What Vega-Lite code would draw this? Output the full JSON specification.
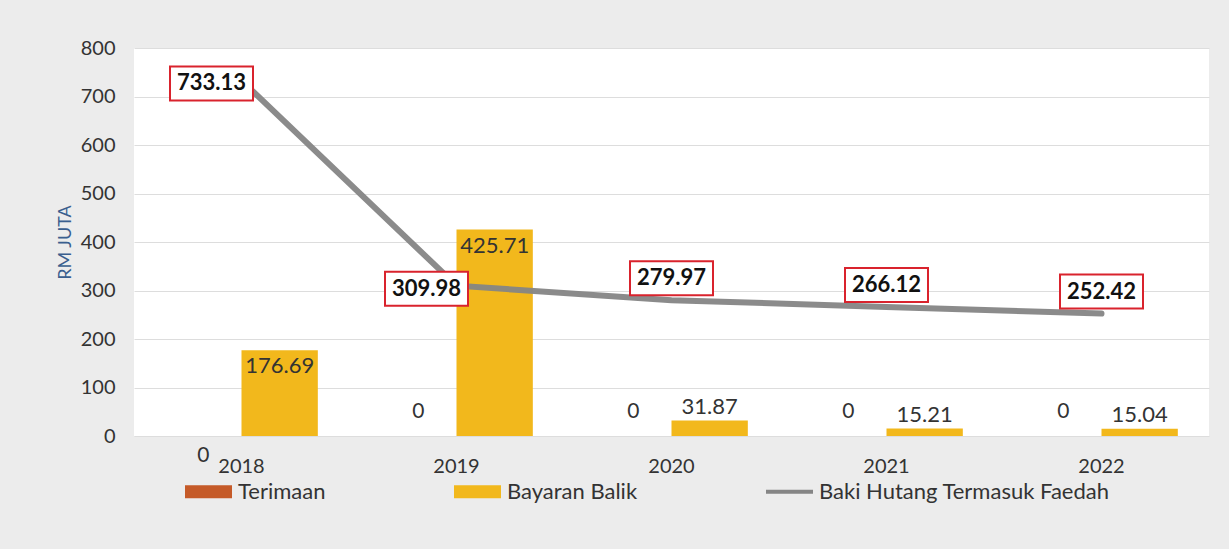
{
  "$schema": "https://vega.github.io/schema/vega-lite/v6.json",
  "autosize": "none",
  "width": 1075,
  "height": 388,
  "padding": {"left": 134, "top": 48, "right": 20, "bottom": 113},
  "background": "#ececec",
  "config": {
    "font": "Lato",
    "view": {"fill": "white", "stroke": null},
    "axis": {"labelFont": "Lato", "titleFont": "Lato"},
    "legend": {"labelFont": "Lato"}
  },
  "data": {
    "values": [
      {"year": "2018", "series": "Terimaan", "value": 0},
      {"year": "2019", "series": "Terimaan", "value": 0},
      {"year": "2020", "series": "Terimaan", "value": 0},
      {"year": "2021", "series": "Terimaan", "value": 0},
      {"year": "2022", "series": "Terimaan", "value": 0},
      {"year": "2018", "series": "Bayaran Balik", "value": 176.69},
      {"year": "2019", "series": "Bayaran Balik", "value": 425.71},
      {"year": "2020", "series": "Bayaran Balik", "value": 31.87},
      {"year": "2021", "series": "Bayaran Balik", "value": 15.21},
      {"year": "2022", "series": "Bayaran Balik", "value": 15.04},
      {"year": "2018", "series": "Baki Hutang Termasuk Faedah", "value": 733.13},
      {"year": "2019", "series": "Baki Hutang Termasuk Faedah", "value": 309.98},
      {"year": "2020", "series": "Baki Hutang Termasuk Faedah", "value": 279.97},
      {"year": "2021", "series": "Baki Hutang Termasuk Faedah", "value": 266.12},
      {"year": "2022", "series": "Baki Hutang Termasuk Faedah", "value": 252.42}
    ]
  },
  "encoding": {
    "x": {
      "field": "year",
      "type": "nominal",
      "scale": {"paddingInner": 0.29, "paddingOuter": 0.145},
      "axis": {
        "title": null,
        "labelAngle": 0,
        "labelFontSize": 20,
        "labelColor": "#333333",
        "labelPadding": 20,
        "ticks": false,
        "domain": false
      }
    },
    "y": {
      "field": "value",
      "type": "quantitative",
      "scale": {"domain": [0, 800], "nice": false},
      "axis": {
        "title": "RM JUTA",
        "titleColor": "#3a5f8f",
        "titleFontSize": 18,
        "titleFontWeight": "normal",
        "titlePadding": 6,
        "titleLimit": 300,
        "values": [0, 100, 200, 300, 400, 500, 600, 700, 800],
        "labelFontSize": 20,
        "labelColor": "#333333",
        "labelPadding": 19,
        "ticks": false,
        "domain": false,
        "gridColor": "#dddddd",
        "gridWidth": 1
      }
    }
  },
  "layer": [
    {
      "transform": [{"filter": "datum.series !== 'Baki Hutang Termasuk Faedah'"}],
      "mark": {"type": "bar"},
      "encoding": {
        "xOffset": {"field": "series", "type": "nominal", "scale": {"domain": ["Terimaan", "Bayaran Balik"], "paddingInner": 0, "paddingOuter": 0}},
        "color": {
          "field": "series",
          "type": "nominal",
          "scale": {
            "domain": ["Terimaan", "Bayaran Balik", "Baki Hutang Termasuk Faedah"],
            "range": ["#c55a28", "#f2b81c", "#858585"]
          },
          "legend": {
            "title": null,
            "orient": "none",
            "direction": "horizontal",
            "legendX": 51,
            "legendY": 420,
            "labelFontSize": 22,
            "labelColor": "#333333",
            "labelOffset": 6,
            "labelLimit": 400,
            "columnPadding": 128,
            "symbolSize": 2209,
            "symbolStrokeWidth": 0,
            "encode": {
              "symbols": {
                "update": {
                  "shape": {"signal": "datum.value === 'Baki Hutang Termasuk Faedah' ? 'M-1,-0.09H1V0.09H-1Z' : 'M-1,-0.28H1V0.28H-1Z'"},
                  "fill": {"signal": "scale('color', datum.value)"},
                  "fillOpacity": {"value": 1},
                  "opacity": {"value": 1},
                  "strokeWidth": {"value": 0}
                }
              }
            }
          }
        }
      }
    },
    {
      "transform": [{"filter": "datum.series === 'Baki Hutang Termasuk Faedah'"}],
      "mark": {"type": "line", "strokeWidth": 6, "strokeCap": "round", "opacity": 0.95},
      "encoding": {
        "color": {"field": "series", "type": "nominal"}
      }
    },
    {
      "transform": [{"filter": "datum.series === 'Baki Hutang Termasuk Faedah' && (datum.year === '2018' || datum.year === '2019')"}],
      "mark": {
        "type": "point",
        "shape": "M-1,-0.41H1V0.41H-1Z",
        "size": 6889,
        "filled": true,
        "fill": "white",
        "fillOpacity": 1,
        "stroke": "#d9232d",
        "strokeWidth": 2,
        "opacity": 1,
        "xOffset": -30,
        "yOffset": 3
      }
    },
    {
      "transform": [{"filter": "datum.series === 'Baki Hutang Termasuk Faedah' && (datum.year === '2018' || datum.year === '2019')"}],
      "mark": {"type": "text", "fontSize": 22, "fontWeight": "bold", "color": "#111111", "dx": -30, "dy": 3},
      "encoding": {"text": {"field": "value", "type": "quantitative", "format": ".2f"}}
    },
    {
      "transform": [{"filter": "datum.series === 'Baki Hutang Termasuk Faedah' && datum.year !== '2018' && datum.year !== '2019'"}],
      "mark": {
        "type": "point",
        "shape": "M-1,-0.41H1V0.41H-1Z",
        "size": 6889,
        "filled": true,
        "fill": "white",
        "fillOpacity": 1,
        "stroke": "#d9232d",
        "strokeWidth": 2,
        "opacity": 1,
        "xOffset": 0,
        "yOffset": -22
      }
    },
    {
      "transform": [{"filter": "datum.series === 'Baki Hutang Termasuk Faedah' && datum.year !== '2018' && datum.year !== '2019'"}],
      "mark": {"type": "text", "fontSize": 22, "fontWeight": "bold", "color": "#111111", "dx": 0, "dy": -22},
      "encoding": {"text": {"field": "value", "type": "quantitative", "format": ".2f"}}
    },
    {
      "transform": [{"filter": "datum.series === 'Bayaran Balik' && datum.value > 100"}],
      "mark": {"type": "text", "fontSize": 22, "color": "#333333", "baseline": "top", "dy": 6},
      "encoding": {
        "xOffset": {"field": "series", "type": "nominal", "scale": {"domain": ["Terimaan", "Bayaran Balik"]}},
        "text": {"field": "value", "type": "quantitative", "format": ".2f"}
      }
    },
    {
      "transform": [{"filter": "datum.series === 'Bayaran Balik' && datum.value <= 100"}],
      "mark": {"type": "text", "fontSize": 22, "color": "#333333", "baseline": "bottom", "dy": -2},
      "encoding": {
        "xOffset": {"field": "series", "type": "nominal", "scale": {"domain": ["Terimaan", "Bayaran Balik"]}},
        "text": {"field": "value", "type": "quantitative", "format": ".2f"}
      }
    },
    {
      "transform": [{"filter": "datum.series === 'Terimaan' && datum.year !== '2018'"}],
      "mark": {"type": "text", "fontSize": 21, "color": "#333333", "dy": -24},
      "encoding": {
        "xOffset": {"field": "series", "type": "nominal", "scale": {"domain": ["Terimaan", "Bayaran Balik"]}},
        "text": {"field": "value", "type": "quantitative"}
      }
    },
    {
      "transform": [{"filter": "datum.series === 'Terimaan' && datum.year === '2018'"}],
      "mark": {"type": "text", "fontSize": 21, "color": "#333333", "dy": 20},
      "encoding": {
        "xOffset": {"field": "series", "type": "nominal", "scale": {"domain": ["Terimaan", "Bayaran Balik"]}},
        "text": {"field": "value", "type": "quantitative"}
      }
    }
  ]
}
